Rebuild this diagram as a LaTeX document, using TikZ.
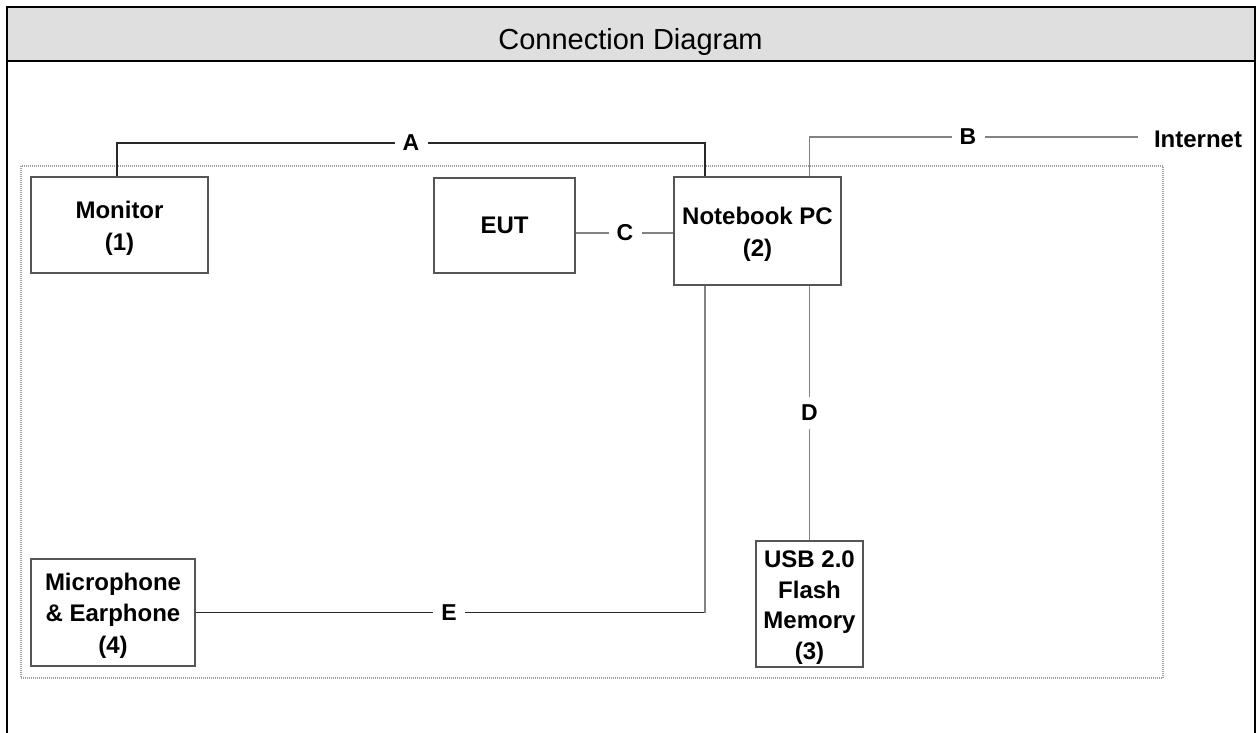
\documentclass[tikz,border=0pt]{standalone}
\usepackage{fontspec}
\setmainfont{Liberation Sans}
\newfontfamily\labfont{Liberation Sans}
\usetikzlibrary{calc}
\definecolor{hdr}{RGB}{223,223,223}
\definecolor{boxc}{RGB}{85,85,85}
\definecolor{dotc}{RGB}{160,160,160}
\newcommand{\topstrut}{\rule{0pt}{23.5pt}}
\tikzset{
  devbox/.style={draw=boxc, line width=1.5pt, fill=white, align=center, inner sep=0pt,
    font=\labfont\bfseries\fontsize{24}{32}\selectfont},
  lbl/.style={inner sep=8pt, font=\labfont\fontsize{23}{28}\selectfont\bfseries},
  darkline/.style={draw={rgb,255:red,40;green,40;blue,40}, line width=1.5pt},
  greyline/.style={draw={rgb,255:red,130;green,130;blue,130}, line width=1.5pt},
  frame/.style={draw=black, line width=2.5pt}
}
\begin{document}
\begin{tikzpicture}[x=1pt,y=-1pt]
\useasboundingbox (0,0) rectangle (1258,733);
% header and frame
\fill[hdr] (7,7) rectangle (1255,61);
\draw[frame] (7,745) -- (7,7) -- (1255,7) -- (1255,745);
\draw[frame] (7,61) -- (1255,61);
\node[anchor=base, font=\fontsize{29}{34}\selectfont] (title) at (630.5,50) {Connection Diagram};
% dotted enclosure
\draw[dotc, line width=1.3pt, dash pattern=on 1pt off 1pt] (21,166) rectangle (1163,678);
% devices
\node[devbox, minimum width=177pt, minimum height=96pt] (mon) at (119.5,225) {\topstrut Monitor\\(1)};
\node[devbox, minimum width=141pt, minimum height=95pt] (eut) at (504.5,225.5) {EUT};
\node[devbox, minimum width=167pt, minimum height=108pt] (nb) at (757.5,231) {\topstrut Notebook PC\\(2)};
\node[devbox, minimum width=107pt, minimum height=126pt, font=\labfont\bfseries\fontsize{24}{30.5}\selectfont] (usb) at (809.5,604) {\topstrut USB 2.0\\Flash\\Memory\\(3)};
\node[devbox, minimum width=164pt, minimum height=107pt, font=\labfont\bfseries\fontsize{24}{31.5}\selectfont] (mic) at (113,612.5) {\topstrut Microphone\\\& Earphone\\(4)};
\node[font=\labfont\bfseries\fontsize{24}{30}\selectfont, inner xsep=16pt, inner ysep=4pt] (inet) at (1198,139) {Internet};
% connection points on notebook
\coordinate (nbA) at ([xshift=-52.5pt]nb.north);
\coordinate (nbB) at ([xshift=52pt]nb.north);
\coordinate (nbE) at ([xshift=-52.5pt]nb.south);
\coordinate (nbD) at ([xshift=52pt]nb.south);
% labels
\node[lbl] (la) at (411,143) {A};
\node[lbl] (lb) at (968,137) {B};
\node[lbl] (lc) at (625,233) {C};
\node[lbl] (ld) at (809.5,413) {D};
\node[lbl] (le) at (449,612.5) {E};
% connectors
\draw[darkline] ([xshift=-2.5pt]mon.north) |- (la.west);
\draw[darkline] (la.east) -| (nbA);
\draw[greyline] (nbB) |- (lb.west);
\draw[greyline] (lb.east) -- (lb.east -| inet.west);
\draw[greyline] (lc.west -| eut.east) -- (lc.west);
\draw[greyline] (lc.east) -- (lc.east -| nb.west);
\draw[greyline] (nbD) -- (ld.north);
\draw[greyline] (ld.south) -- (usb.north);
\draw[darkline] (mic.east) -- (le.west);
\coordinate (ecorner) at (le.east -| nbE);
\draw[darkline] (le.east) -- (ecorner);
\draw[greyline] (ecorner) -- (nbE);
\end{tikzpicture}
\end{document}
